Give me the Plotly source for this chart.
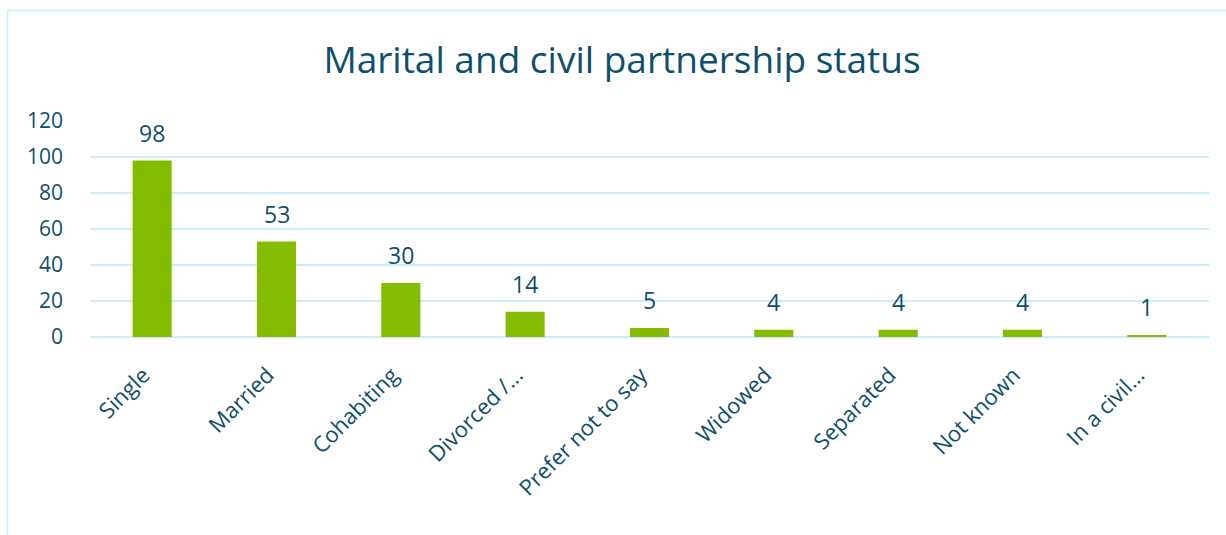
import plotly.graph_objects as go

# Survey counts by marital / civil partnership status
categories = ["Single", "Married", "Cohabiting", "Divorced /...", "Prefer not to say",
              "Widowed", "Separated", "Not known", "In a civil..."]
counts = [98, 53, 30, 14, 5, 4, 4, 4, 1]
y_ticks = [0, 20, 40, 60, 80, 100, 120]

TEXT = "#0e4f6b"
BAR = "#84bc00"
GRID = "#c8edfc"
FONT = "Open Sans"

W, H = 1226, 535
ML, MR, MT, MB = 90, 17, 121, 198

positions = list(range(len(categories)))
LABEL_NUDGE = -0.07  # rotated labels sit slightly left of bar centres

fig = go.Figure(
    go.Bar(
        x=positions,
        y=counts,
        width=0.314,
        marker=dict(color=BAR, line=dict(width=0)),
        customdata=categories,
        hovertemplate="%{customdata}: %{y}<extra></extra>",
    )
)

# value labels above each bar
for p, v in zip(positions, counts):
    fig.add_annotation(
        x=p, y=v, text=str(v), showarrow=False,
        yanchor="middle", yshift=28,
        font=dict(family=FONT, size=23, color=TEXT),
    )

# light frame around the chart
pw, ph = W - ML - MR, H - MT - MB
fig.add_shape(
    type="rect", xref="paper", yref="paper",
    x0=(7.5 - ML) / pw, x1=(W + 20 - ML) / pw,
    y0=-(H + 20 - MT - ph) / ph, y1=(H - MB - 10.5) / ph,
    line=dict(color=GRID, width=1.5), fillcolor="rgba(0,0,0,0)", layer="below",
)

fig.update_layout(
    width=W, height=H,
    margin=dict(l=ML, r=MR, t=MT, b=MB),
    paper_bgcolor="white", plot_bgcolor="white",
    showlegend=False,
    title=dict(
        text="Marital and civil partnership status",
        x=622 / W, xref="container", xanchor="center",
        y=(H - 60) / H, yref="container", yanchor="middle",
        font=dict(family=FONT, size=37, color=TEXT),
    ),
    font=dict(family=FONT, color=TEXT),
    xaxis=dict(
        range=[-0.5, len(categories) - 0.5],
        tickmode="array",
        tickvals=[p + LABEL_NUDGE for p in positions],
        ticktext=categories,
        tickangle=-45,
        tickfont=dict(family=FONT, size=22, color=TEXT),
        showgrid=False, showline=False, zeroline=False, ticks="",
        ticklabelstandoff=20,
    ),
    yaxis=dict(
        range=[0, 120],
        tickvals=y_ticks,
        tickfont=dict(family=FONT, size=21, color=TEXT),
        showgrid=True, gridcolor=GRID, gridwidth=1.5,
        zeroline=True, zerolinecolor=GRID, zerolinewidth=1.5,
        showline=False, ticks="", ticklabelstandoff=26,
    ),
)

fig.write_html("out.html")
